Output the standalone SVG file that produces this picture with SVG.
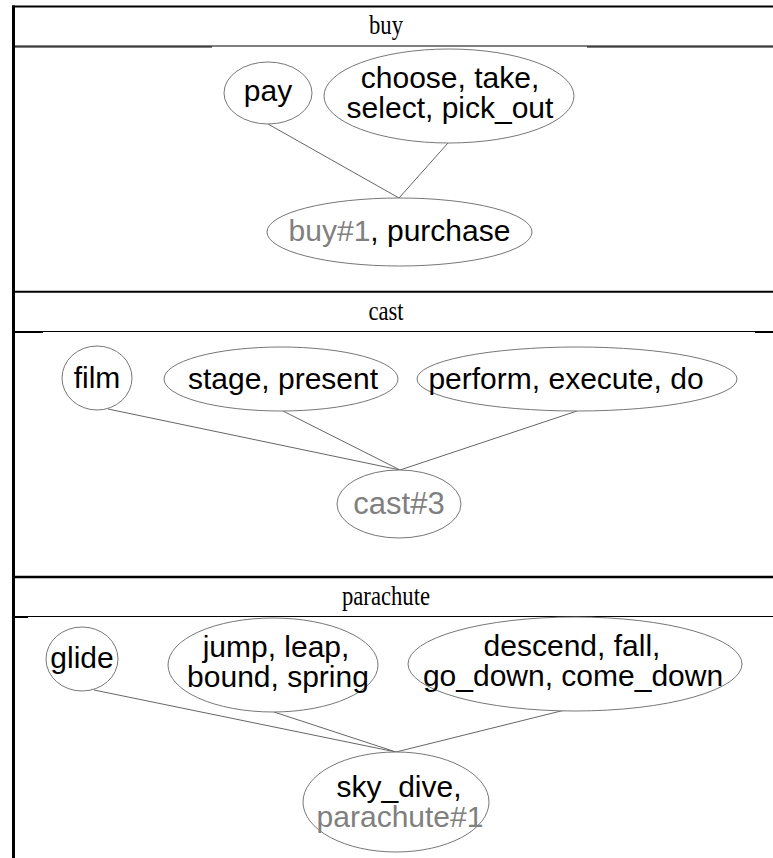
<svg xmlns="http://www.w3.org/2000/svg" width="773" height="858" viewBox="0 0 773 858">
<style>
.bg{fill:#ffffff}
.tb{stroke:#000;fill:none}
.hd{font-family:"Liberation Serif",serif;font-size:27px;fill:#000;text-anchor:middle}
.nd ellipse{fill:#ffffff;stroke:#777;stroke-width:1}
.nd text{font-family:"Liberation Sans",Arial,sans-serif;font-size:30px;fill:#000;text-anchor:middle}
.g{fill:#808080}
.edges line{stroke:#666;stroke-width:1}
</style>
<rect class="bg" x="0" y="0" width="773" height="858"/>
<g id="table">
<line class="tb" x1="13.5" y1="5.5" x2="13.5" y2="858" stroke-width="3"/>
<line class="tb" x1="12" y1="6.5" x2="773" y2="6.5" stroke-width="2"/>
<line class="tb" x1="12" y1="46" x2="773" y2="46" stroke-width="1"/>
<line class="tb" x1="12" y1="47" x2="212" y2="47" stroke-width="1"/>
<line class="tb" x1="587" y1="47" x2="773" y2="47" stroke-width="1"/>
<line class="tb" x1="12" y1="291.8" x2="773" y2="291.8" stroke-width="2"/>
<line class="tb" x1="12" y1="331.5" x2="773" y2="331.5" stroke-width="1"/>
<line class="tb" x1="12" y1="332.5" x2="43" y2="332.5" stroke-width="1"/>
<line class="tb" x1="755" y1="332.5" x2="773" y2="332.5" stroke-width="1"/>
<line class="tb" x1="12" y1="577" x2="773" y2="577" stroke-width="2.3"/>
<line class="tb" x1="12" y1="616.5" x2="773" y2="616.5" stroke-width="1"/>
<line class="tb" x1="12" y1="617.5" x2="28" y2="617.5" stroke-width="1"/>
<text class="hd" transform="translate(386,34) scale(0.84,1)">buy</text>
<text class="hd" transform="translate(386,320) scale(0.84,1)">cast</text>
<text class="hd" transform="translate(386,605) scale(0.84,1)">parachute</text>
</g>
<g id="connectors" class="edges">
<line x1="268" y1="124" x2="399" y2="198"/>
<line x1="448" y1="143" x2="399" y2="198"/>
<line x1="108" y1="409" x2="400" y2="470"/>
<line x1="283" y1="411" x2="400" y2="470"/>
<line x1="577" y1="411" x2="400" y2="470"/>
<line x1="94" y1="690" x2="396" y2="752"/>
<line x1="274" y1="712" x2="396" y2="752"/>
<line x1="565" y1="710" x2="396" y2="752"/>
</g>
<g id="n_pay" class="nd"><ellipse cx="268" cy="93" rx="44" ry="31"/><text x="268" y="101">pay</text></g>
<g id="n_choose" class="nd"><ellipse cx="449" cy="96" rx="125" ry="47"/><text x="450" y="88">choose, take,</text><text x="450" y="118">select, pick_out</text></g>
<g id="n_buy1" class="nd"><ellipse cx="399.5" cy="232" rx="132.5" ry="34"/><text x="399.5" y="241"><tspan class="g">buy#1</tspan>, purchase</text></g>
<g id="n_film" class="nd"><ellipse cx="97" cy="378" rx="35" ry="32"/><text x="97" y="388">film</text></g>
<g id="n_stage" class="nd"><ellipse cx="281" cy="379" rx="117" ry="32"/><text x="283" y="389">stage, present</text></g>
<g id="n_perform" class="nd"><ellipse cx="577" cy="379" rx="160" ry="32"/><text x="566" y="389">perform, execute, do</text></g>
<g id="n_cast3" class="nd"><ellipse cx="399" cy="504" rx="62" ry="34"/><text x="399" y="514" style="fill:#808080;font-size:31px">cast#3</text></g>
<g id="n_glide" class="nd"><ellipse cx="82" cy="659" rx="36" ry="32"/><text x="82" y="668">glide</text></g>
<g id="n_jump" class="nd"><ellipse cx="273" cy="665" rx="105" ry="47"/><text x="276" y="657">jump, leap,</text><text x="278" y="687">bound, spring</text></g>
<g id="n_descend" class="nd"><ellipse cx="575" cy="664" rx="167" ry="47"/><text x="572" y="656">descend, fall,</text><text x="573" y="686">go_down, come_down</text></g>
<g id="n_skydive" class="nd"><ellipse cx="396" cy="802" rx="93" ry="50"/><text x="399" y="797">sky_dive,</text><text x="400" y="827" style="fill:#808080">parachute#1</text></g>
</svg>
